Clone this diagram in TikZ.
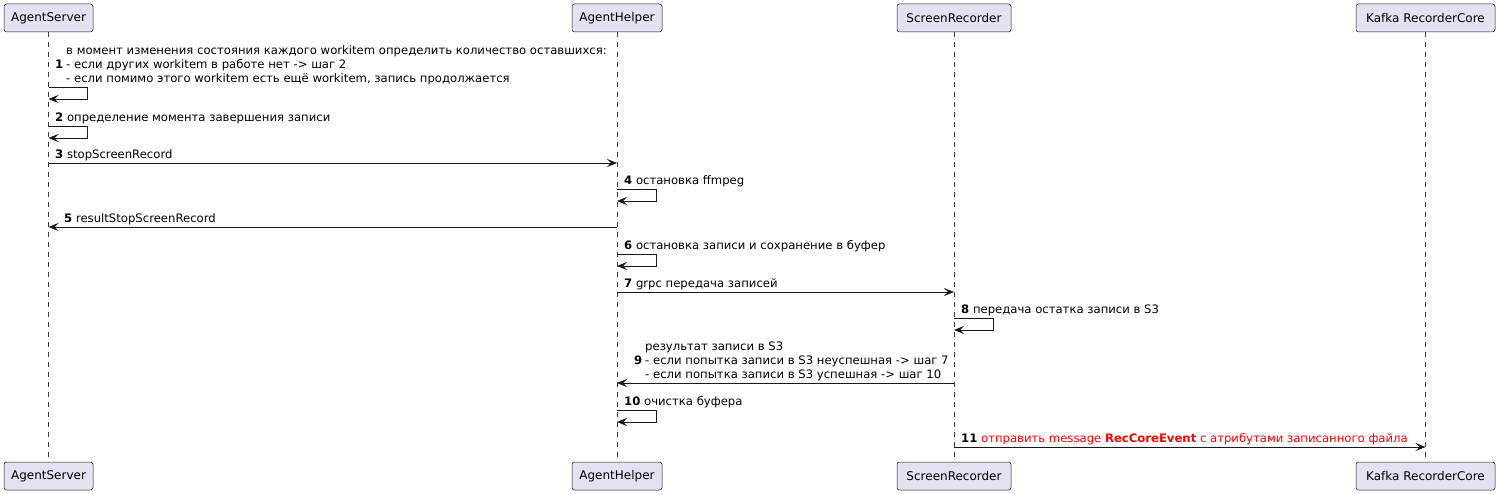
\documentclass[tikz,border=0pt]{standalone}
\usepackage{fontspec}
\setmainfont{DejaVu Sans}
\usetikzlibrary{arrows.meta}
\definecolor{boxfill}{HTML}{E2E2F0}
\definecolor{ink}{HTML}{181818}
\definecolor{msgred}{HTML}{FF0000}
\newcommand\selfmsg[2]{\draw[msg] (#1 |- 0,#2) -- ++(39,0) -- ++(0,12) -- ++(-39,0);}

\begin{document}
\begin{tikzpicture}[x=1pt,y=-1pt,
  actor/.style={draw=ink,fill=boxfill,rounded corners=2.5pt,line width=0.5pt,
    minimum height=28pt,inner xsep=0pt,font=\fontsize{12}{14}\selectfont},
  life/.style={draw=ink!85,dash pattern=on 5pt off 5pt,line width=0.5pt},
  msg/.style={draw=ink,line width=0.9pt,-{Stealth[length=10pt,width=8pt,inset=4pt]}},
  lbl/.style={font=\fontsize{11.65}{14}\selectfont,inner sep=0pt,anchor=base west,align=left},
]
\useasboundingbox (0,0) rectangle (1497,494);

% participants, top and bottom
\node[actor,minimum width=89pt]  (as)  at (48.5,18)  {AgentServer};
\node[actor,minimum width=90pt]  (ah)  at (617,18)   {AgentHelper};
\node[actor,minimum width=114pt] (sr)  at (954,18)   {ScreenRecorder};
\node[actor,minimum width=139pt] (kc)  at (1425.5,18) {Kafka RecorderCore};
\node[actor,minimum width=89pt]  (asb) at (48.5,476) {AgentServer};
\node[actor,minimum width=90pt]  (ahb) at (617,476)  {AgentHelper};
\node[actor,minimum width=114pt] (srb) at (954,476)  {ScreenRecorder};
\node[actor,minimum width=139pt] (kcb) at (1425.5,476) {Kafka RecorderCore};

% lifelines
\draw[life] (as) -- (asb);
\draw[life] (ah) -- (ahb);
\draw[life] (sr) -- (srb);
\draw[life] (kc) -- (kcb);

% 1 (multi-line: base is the last line)
\node[lbl] (n1) at (55,68.5) {\textbf{1}};
\node[lbl] (t1) at (66,82.5) {в момент изменения состояния каждого workitem определить количество оставшихся:\\
- если других workitem в работе нет -> шаг 2\\
- если помимо этого workitem есть ещё workitem, запись продолжается};
\selfmsg{as}{87}

% 2
\node[lbl] (t2) at (55,121.5) {\textbf{2} определение момента завершения записи};
\selfmsg{as}{126}

% 3
\node[lbl] (t3) at (55,158.5) {\textbf{3} stopScreenRecord};
\draw[msg] (as |- 0,163) -- (ah |- 0,163);

% 4
\node[lbl] (t4) at (624,184.5) {\textbf{4} остановка ffmpeg};
\selfmsg{ah}{189}

% 5
\node[lbl] (t5) at (64,222.5) {\textbf{5} resultStopScreenRecord};
\draw[msg] (ah |- 0,227) -- (as |- 0,227);

% 6
\node[lbl] (t6) at (624,249.5) {\textbf{6} остановка записи и сохранение в буфер};
\selfmsg{ah}{254}

% 7
\node[lbl] (t7) at (624,287.5) {\textbf{7} grpc передача записей};
\draw[msg] (ah |- 0,292) -- (sr |- 0,292);

% 8
\node[lbl] (t8) at (961,313.5) {\textbf{8} передача остатка записи в S3};
\selfmsg{sr}{318}

% 9
\node[lbl] (n9) at (634,364.5) {\textbf{9}};
\node[lbl] (t9) at (645,378.5) {результат записи в S3\\
- если попытка записи в S3 неуспешная -> шаг 7\\
- если попытка записи в S3 успешная -> шаг 10};
\draw[msg] (sr |- 0,383) -- (ah |- 0,383);

% 10
\node[lbl] (t10) at (624,405.5) {\textbf{10} очистка буфера};
\selfmsg{ah}{410}

% 11
\node[lbl] (t11) at (961,442.5) {\textbf{11} \textcolor{msgred}{отправить message \textbf{RecCoreEvent} с атрибутами записанного файла}};
\draw[msg] (sr |- 0,447) -- (kc |- 0,447);
\end{tikzpicture}
\end{document}
